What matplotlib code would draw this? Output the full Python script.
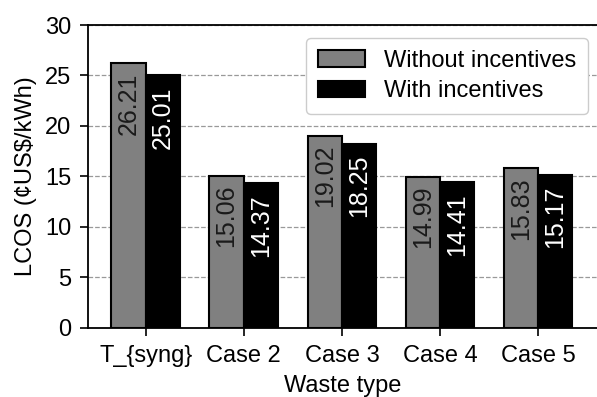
import matplotlib
matplotlib.use("Agg")
import matplotlib.pyplot as plt
import numpy as np

plt.rcParams['font.family'] = ['Liberation Sans', 'DejaVu Sans']

categories = ["T_{syng}", "Case 2", "Case 3", "Case 4", "Case 5"]
without_inc = [26.21, 15.06, 19.02, 14.99, 15.83]
with_inc = [25.01, 14.37, 18.25, 14.41, 15.17]

x = np.arange(len(categories))
w = 0.35

fig = plt.figure(figsize=(5.97, 3.97), dpi=100)
ax = fig.add_axes([0.147, 0.174, 0.853, 0.763])
ax.set_axisbelow(True)
ax.yaxis.grid(True, linestyle="--", color="#999999", linewidth=0.9)

b1 = ax.bar(x - w / 2, without_inc, w, color="#808080", edgecolor="black",
            linewidth=1.5, label="Without incentives")
b2 = ax.bar(x + w / 2, with_inc, w, color="black", edgecolor="black",
            linewidth=1.5, label="With incentives")

for rect, v in zip(b1, without_inc):
    ax.text(rect.get_x() + rect.get_width() / 2, v - 0.9, f"{v:.2f}",
            rotation=90, ha="center", va="top", fontsize=18, color="#1a1a1a")
for rect, v in zip(b2, with_inc):
    ax.text(rect.get_x() + rect.get_width() / 2, v - 1.1, f"{v:.2f}",
            rotation=90, ha="center", va="top", fontsize=18, color="white")

ax.set_xlim(-0.59, 4.6)
ax.set_ylim(0, 30)
ax.set_xticks(x)
ax.set_xticklabels(categories)
ax.set_yticks(range(0, 31, 5))
ax.tick_params(labelsize=17, width=1.2, length=6, pad=6)
ax.set_xlabel("Waste type", fontsize=17, labelpad=6)
ax.set_ylabel("LCOS (\u00a2US$/kWh)", fontsize=17, labelpad=6)
for s in ["left", "bottom", "top"]:
    ax.spines[s].set_linewidth(1.3)
ax.spines["right"].set_visible(False)

ax.legend(loc="upper right", fontsize=17, fancybox=True, framealpha=1,
          edgecolor="#cccccc", borderpad=0.5, handlelength=2.0,
          labelspacing=0.35, borderaxespad=0, bbox_to_anchor=(0.982, 0.957))

fig.savefig("out.png", dpi=100)
